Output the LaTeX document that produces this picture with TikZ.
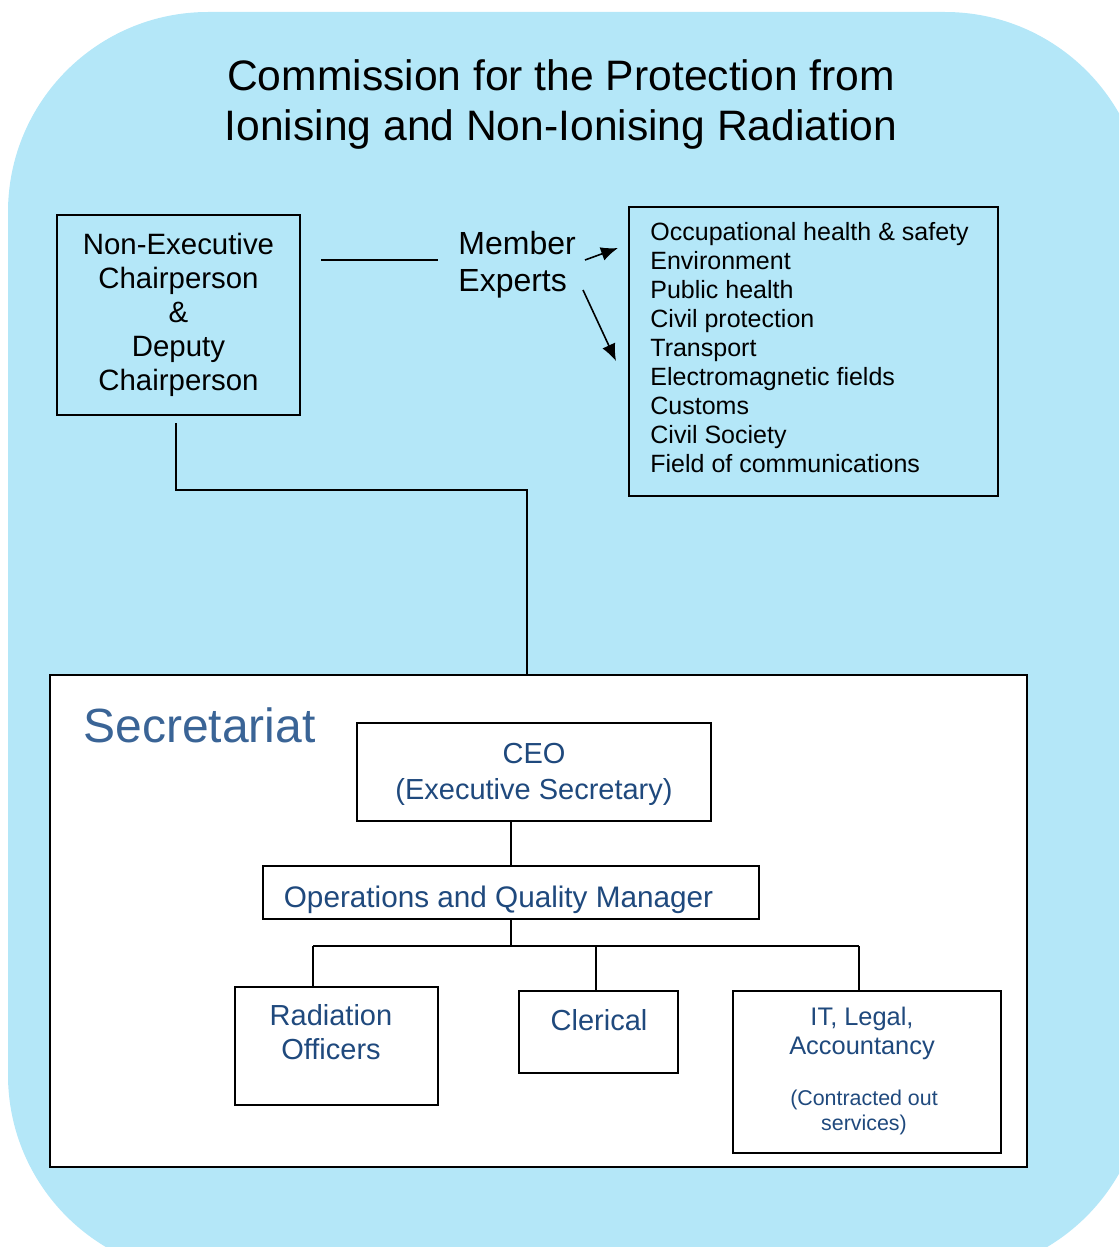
\documentclass[tikz,border=0pt]{standalone}
\usepackage{fontspec}
\setmainfont{Liberation Sans}
\usepackage{xcolor}
\usetikzlibrary{arrows.meta,positioning}
\definecolor{bgblue}{RGB}{180,231,248}
\definecolor{secblue}{RGB}{58,100,150}
\definecolor{boxblue}{RGB}{31,73,125}
\tikzstyle{box}=[draw, line width=1pt, rectangle, inner sep=0pt]
\tikzstyle{bluetxt}=[text=boxblue, align=center, font=\fontsize{14.5}{17}\selectfont]
\tikzstyle{link}=[line width=1pt]
\tikzstyle{pointer}=[line width=0.8pt, -{Latex[length=8.5pt,width=7pt]}]

\begin{document}
\begin{tikzpicture}[x=0.5pt,y=-0.5pt]

\path[use as bounding box] (0,0) rectangle (1119,1247);
\clip (0,0) rectangle (1119,1247);
\fill[bgblue, rounded corners=100pt] (8,12) rectangle (1145,1275);

% title
\node[align=center, font=\fontsize{21.3}{25}\selectfont] (title) at (561,104) {Commission for the Protection from\\Ionising and Non-Ionising Radiation};

% board
\node[box, minimum width=121.5pt, minimum height=100pt, align=center, font=\fontsize{14.7}{17}\selectfont] (chair) at (178.5,315) {Non-Executive\\Chairperson\\\&\\Deputy\\Chairperson};
\node[anchor=west, align=left, inner sep=0pt, font=\fontsize{16}{18.5}\selectfont] (member) at (458,265) {Member\\Experts};
\node[box, minimum width=184.5pt, minimum height=144.5pt] (fields) at (813.5,351.5) {};
\node[anchor=north west, inner sep=0pt, align=left, font=\fontsize{12.5}{14.5}\selectfont] (fieldlist) at (650,222) {Occupational health \& safety\\Environment\\Public health\\Civil protection\\Transport\\Electromagnetic fields\\Customs\\Civil Society\\Field of communications};

\draw[link] ([xshift=10pt]chair.east |- 0,260) -- ([xshift=-10pt]member.west |- 0,260);
\coordinate (a1) at (585,260);
\coordinate (a2) at (583,290);
\draw[pointer] (a1) -- (618,248);
\draw[pointer] (a2) -- (616,361);

% secretariat
\node[box, fill=white, minimum width=488.5pt, minimum height=246pt] (secr) at (538.5,921) {};
\node[anchor=west, inner sep=0pt, text=secblue, font=\fontsize{24}{28}\selectfont] (secrlabel) at (83,725) {Secretariat};

\coordinate (jn) at (527,490);
\draw[link] ([xshift=-1.5pt,yshift=-3.5pt]chair.south) |- (jn) -- (jn |- secr.north);

% CEO
\node[box, minimum width=177pt, minimum height=49pt] (ceo) at (534,772) {};
\node[bluetxt, font=\fontsize{14.5}{18}\selectfont] (ceotxt) at (534,774) {CEO\\(Executive Secretary)};

% manager
\node[box, minimum width=248pt, minimum height=26.5pt] (ops) at (511,892.5) {};
\node[bluetxt, font=\fontsize{14.85}{17}\selectfont] (opstxt) at (498.5,900) {Operations and Quality Manager};
\draw[link] (ops.north) -- (ops.north |- ceo.south);

% staff
\node[box, minimum width=101.5pt, minimum height=59pt] (rad) at (336.5,1046) {};
\node[bluetxt] (radtxt) at (331,1032) {Radiation\\Officers};
\node[box, minimum width=79.5pt, minimum height=41pt] (cler) at (598.5,1032) {};
\node[bluetxt] (clertxt) at (599,1020) {Clerical};
\node[box, minimum width=134pt, minimum height=81pt] (it) at (867,1072) {};
\node[bluetxt, font=\fontsize{12.7}{14.5}\selectfont] (ittxt) at (862,1033) {IT, Legal,\\Accountancy};
\node[bluetxt, font=\fontsize{10.7}{12.5}\selectfont] (contr) at (864,1112) {(Contracted out\\services)};

\coordinate (busL) at (313,946);
\coordinate (busM) at (596,946);
\coordinate (busR) at (859,946);
\draw[link] (ops.south) -- (ops.south |- busL);
\draw[link] (busL) -- (busR);
\draw[link] (busL) -- (busL |- rad.north);
\draw[link] (busM) -- (busM |- cler.north);
\draw[link] (busR) -- (busR |- it.north);

\end{tikzpicture}
\end{document}
